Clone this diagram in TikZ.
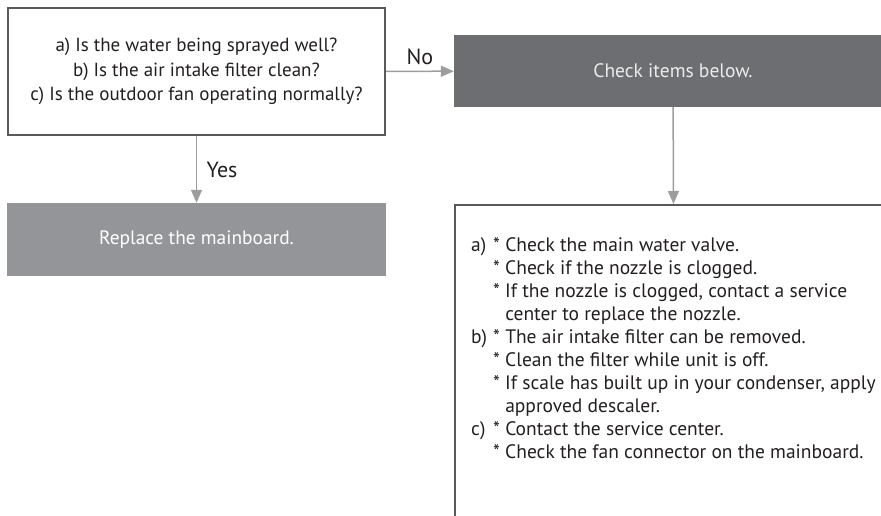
\documentclass[tikz,border=0pt]{standalone}
\usepackage{fontspec}
\setmainfont{PT Sans}
\usetikzlibrary{arrows.meta}
\definecolor{boxline}{HTML}{58595B}
\definecolor{arrowgray}{HTML}{9D9D9F}
\definecolor{darkfill}{HTML}{6D6E71}
\definecolor{grayfill}{HTML}{939598}
\definecolor{inktext}{HTML}{231F20}
\tikzstyle{question} = [
    rectangle,
    minimum width=377pt,
    minimum height=127pt,
    draw=boxline,
    line width=2.2pt,
    align=center,
    text=inktext,
    font=\fontsize{19}{24.5}\selectfont
]
\tikzstyle{darkstep} = [
    rectangle,
    minimum width=438pt,
    minimum height=72pt,
    fill=darkfill,
    text=white!92!black,
    font=\fontsize{19.5}{22}\selectfont
]
\tikzstyle{graystep} = [
    rectangle,
    minimum width=379pt,
    minimum height=73pt,
    fill=grayfill,
    text=white,
    font=\fontsize{19.4}{22}\selectfont
]
\tikzstyle{listbox} = [
    rectangle,
    minimum width=438pt,
    minimum height=360pt,
    draw=boxline,
    line width=2.2pt
]
\tikzstyle{listtext} = [
    inner sep=0pt,
    align=left,
    text=inktext,
    font=\fontsize{19.5}{23}\selectfont
]
\tikzstyle{arrow} = [arrowgray, line width=1.5pt, -{Triangle[length=13pt,width=11pt]}]
\tikzstyle{answer} = [text=inktext, font=\fontsize{22}{24}\selectfont]

\newcommand{\tag}[1]{\makebox[22pt][l]{#1}}

\begin{document}
\begin{tikzpicture}[x=1pt,y=-1pt]
\useasboundingbox (0,0) rectangle (881,516);
\clip (0,0) rectangle (881,516);

\node (quest) [question] at (196.5,71.5)
{a) Is the water being sprayed well?\\
b) Is the air intake filter clean?\\
c) Is the outdoor fan operating normally?};

\node (check) [darkstep] at (673,71) {Check items below.};

\node (replace) [graystep] at (196.5,239.5) {Replace the mainboard.};

\node (items) [listbox, anchor=north west] at (454,204) {};

\node (itemtext) [listtext, anchor=north west, xshift=17pt, yshift=-33pt] at (items.north west)
{\tag{a)}* Check the main water valve.\\
\tag{}* Check if the nozzle is clogged.\\
\tag{}* If the nozzle is clogged, contact a service\\
\tag{}\phantom{* }center to replace the nozzle.\\
\tag{b)}* The air intake filter can be removed.\\
\tag{}* Clean the filter while unit is off.\\
\tag{}* If scale has built up in your condenser, apply\\
\tag{}\phantom{* }approved descaler.\\
\tag{c)}* Contact the service center.\\
\tag{}* Check the fan connector on the mainboard.};

\draw [arrow] (quest) -- node[answer, above=2pt]{No} (check);
\draw [arrow] (quest) -- node[answer, right=6pt]{Yes} (replace);
\draw [arrow] (check) -- (items);

\end{tikzpicture}
\end{document}
